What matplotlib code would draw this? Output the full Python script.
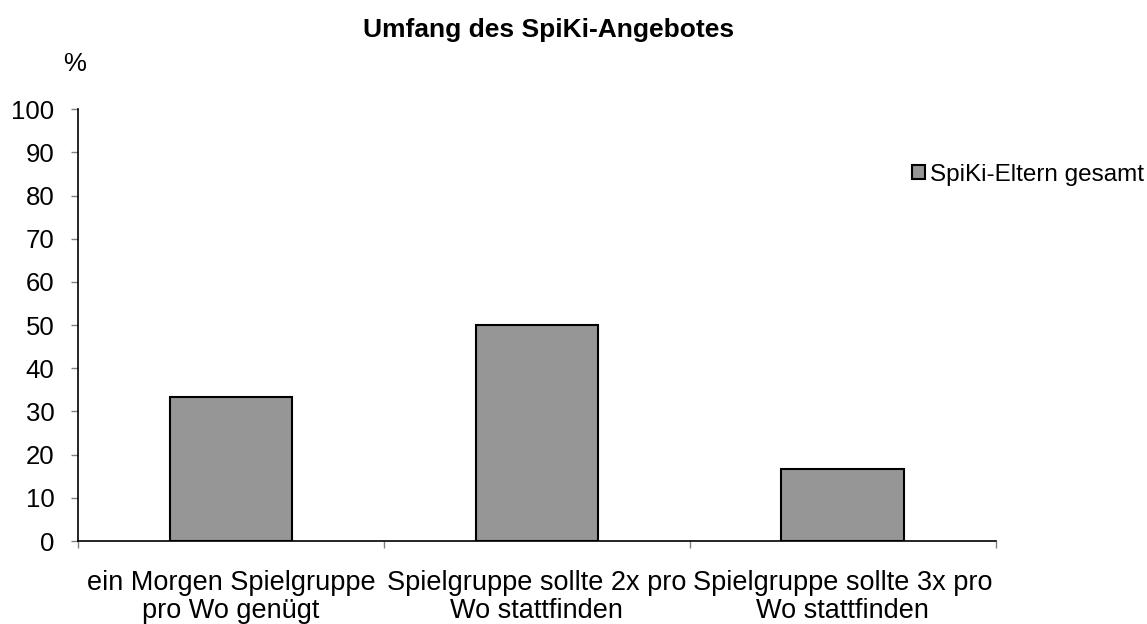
import numpy as np
import matplotlib.pyplot as plt
from matplotlib.ticker import FixedLocator

plt.rcParams['font.family'] = ['Liberation Sans', 'DejaVu Sans']

categories = ["ein Morgen Spielgruppe\npro Wo genügt",
              "Spielgruppe sollte 2x pro\nWo stattfinden",
              "Spielgruppe sollte 3x pro\nWo stattfinden"]
values = [33.3, 50.0, 16.7]
series_name = "SpiKi-Eltern gesamt"

fig = plt.figure(figsize=(11.47, 6.24), dpi=100)
ax = fig.add_axes([0.068, 0.133, 0.800, 0.692])

x = np.arange(len(categories))
ax.bar(x, values, width=0.4, color="#969696", edgecolor="black", linewidth=1.5,
       label=series_name, zorder=3)

ax.set_xlim(-0.5, len(categories) - 0.5)
ax.set_ylim(0, 100)
ax.set_yticks(np.arange(0, 101, 10))
ax.set_xticks(x)
ax.set_xticklabels(categories, fontsize=19.5, linespacing=1.08)
ax.tick_params(axis="x", which="major", length=0, pad=21)
ax.xaxis.set_minor_locator(FixedLocator(np.arange(-0.5, len(categories), 1.0)))
ax.tick_params(axis="x", which="minor", length=5, color="#808080", width=1)
ax.tick_params(axis="y", length=5, width=1, color="#808080", labelsize=18.5, pad=12)

for s in ("top", "right"):
    ax.spines[s].set_visible(False)
ax.spines["left"].set_linewidth(1.2)
ax.spines["bottom"].set_linewidth(1.2)

fig.text(0.478, 0.952, "Umfang des SpiKi-Angebotes", ha="center", va="center",
         fontsize=19, fontweight="bold")
fig.text(0.065, 0.897, "%", ha="center", va="center", fontsize=18.5)

fig.legend(loc="center left", bbox_to_anchor=(0.795, 0.72), frameon=False,
           fontsize=17.5, handlelength=0.55, handleheight=0.55, handletextpad=0.2,
           borderpad=0, borderaxespad=0)

plt.savefig("out.png", dpi=100)
